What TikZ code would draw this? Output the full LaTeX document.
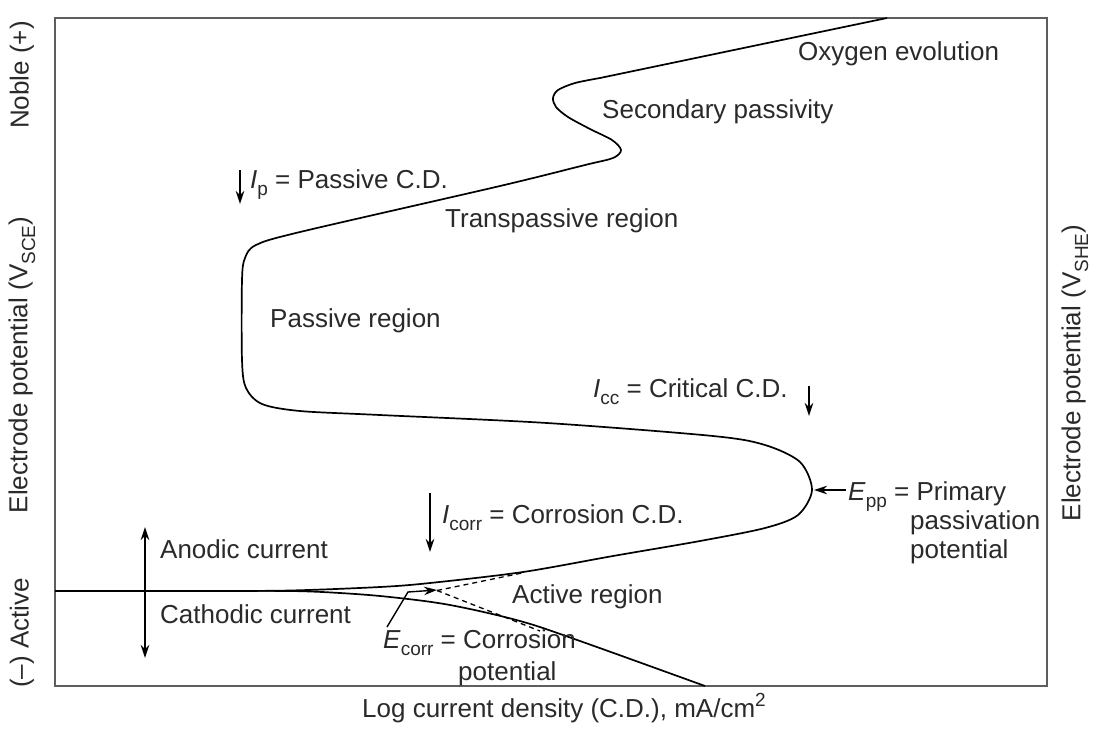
\documentclass[tikz,border=0pt]{standalone}
\usepackage{fontspec}
\setmainfont{Liberation Sans}
\usetikzlibrary{arrows.meta}
\definecolor{txt}{HTML}{2A2A2A}
\definecolor{framec}{HTML}{5E5E5E}
\newcommand\lsub[1]{\raisebox{-0.3em}{\fontsize{19}{19}\selectfont #1}}
\newcommand\lsup[1]{\raisebox{0.42em}{\fontsize{19}{19}\selectfont #1}}
\begin{document}
\begin{tikzpicture}[x=1pt,y=-1pt,
  lbl/.style={anchor=base west, inner sep=0pt, text=txt, font=\fontsize{26}{30}\selectfont},
  axl/.style={inner sep=0pt, text=txt, font=\fontsize{26}{30}\selectfont, rotate=90},
  curve/.style={line width=1.7pt, line join=round},
  arr/.style={line width=1.4pt, -{Stealth[length=13pt,width=8.5pt]}},
  darr/.style={line width=1.4pt, {Stealth[length=13pt,width=8.5pt]}-{Stealth[length=13pt,width=8.5pt]}},
  dsh/.style={line width=1.3pt, dash pattern=on 5pt off 4pt}]
\useasboundingbox (0,0) rectangle (1096,729);
\fill[white] (0,0) rectangle (1096,729);
% frame
\draw[framec, line width=2.2pt] (55,18) rectangle (1047,686);
% anodic curve
\draw[curve] plot[smooth, tension=0.5] coordinates {
 (55,591) (200,591) (290,590.5) (380,587) (430,583) (523,572) (613,556) (700,541)
 (765,528) (798,515) (812,490) (800,462) (765,445) (713,436) (547,423) (380,415)
 (300,411) (262,404) (246,388) (242,360) (242,280) (245,258) (256,245) (300,232)
 (500,186) (585,165) (613,158) (621,150) (612,140) (590,129) (568,117) (556,107)
 (553,98) (558,90) (575,83) (600,78)} -- (887,18);
% cathodic curve
\draw[curve] plot[smooth, tension=0.55] coordinates {
 (200,591) (290,591) (340,593) (390,597) (450,605) (520,621) (580,641) (705,686)};
% dashed extrapolations
\coordinate (dc) at (437,590.5);
\coordinate (da) at (522,573);
\coordinate (dk) at (540,631);
\draw[dsh] (dc) -- (da);
\draw[dsh] (dc) -- (dk);
% arrows
\coordinate (ipa) at (240,170); \coordinate (ipb) at (240,204);
\draw[arr] (ipa) -- (ipb);
\coordinate (icca) at (809,386); \coordinate (iccb) at (809,416);
\draw[arr] (icca) -- (iccb);
\coordinate (icoa) at (430,493); \coordinate (icob) at (430,552);
\draw[arr] (icoa) -- (icob);
\coordinate (eppa) at (846,490); \coordinate (eppb) at (814,490);
\draw[arr] (eppa) -- (eppb);
\coordinate (aca) at (145,527); \coordinate (acb) at (145,658);
\draw[darr] (aca) -- (acb);
\coordinate (eca) at (387,627); \coordinate (ecm) at (408,592); \coordinate (ecb) at (437,590);
\draw[arr] (eca) -- (ecm) -- (ecb);
% labels
\node[lbl] (oxy) at (798,60) {Oxygen evolution};
\node[lbl] (sec) at (602,118) {Secondary passivity};
\node[lbl] (ip) at (250,188) {\textit{I}\lsub{p} = Passive C.D.};
\node[lbl] (trans) at (445,227) {Transpassive region};
\node[lbl] (pass) at (270,327) {Passive region};
\node[lbl] (icc) at (593,397) {\textit{I}\lsub{cc} = Critical C.D.};
\node[lbl] (epp) at (848,500) {\textit{E}\lsub{pp} = Primary};
\node[lbl] (epp2) at (910,529) {passivation};
\node[lbl] (epp3) at (910,558) {potential};
\node[lbl] (icorr) at (442,523) {\textit{I}\lsub{corr} = Corrosion C.D.};
\node[lbl] (anod) at (160,558) {Anodic current};
\node[lbl] (cath) at (160,623) {Cathodic current};
\node[lbl] (act) at (512,603) {Active region};
\node[lbl] (ecorr) at (383,648) {\textit{E}\lsub{corr} = Corrosion};
\node[lbl] (ecorr2) at (458,680) {potential};
\node[lbl] (xlab) at (362,717) {Log current density (C.D.), mA/cm\lsup{2}};
\node[axl] (noble) at (22,75) {Noble (+)};
\node[axl] (ylab) at (22,365) {Electrode potential (V\lsub{SCE})};
\node[axl] (activ) at (22,633) {(\textendash) Active};
\node[axl] (ylab2) at (1075,373) {Electrode potential (V\lsub{SHE})};
\end{tikzpicture}
\end{document}
